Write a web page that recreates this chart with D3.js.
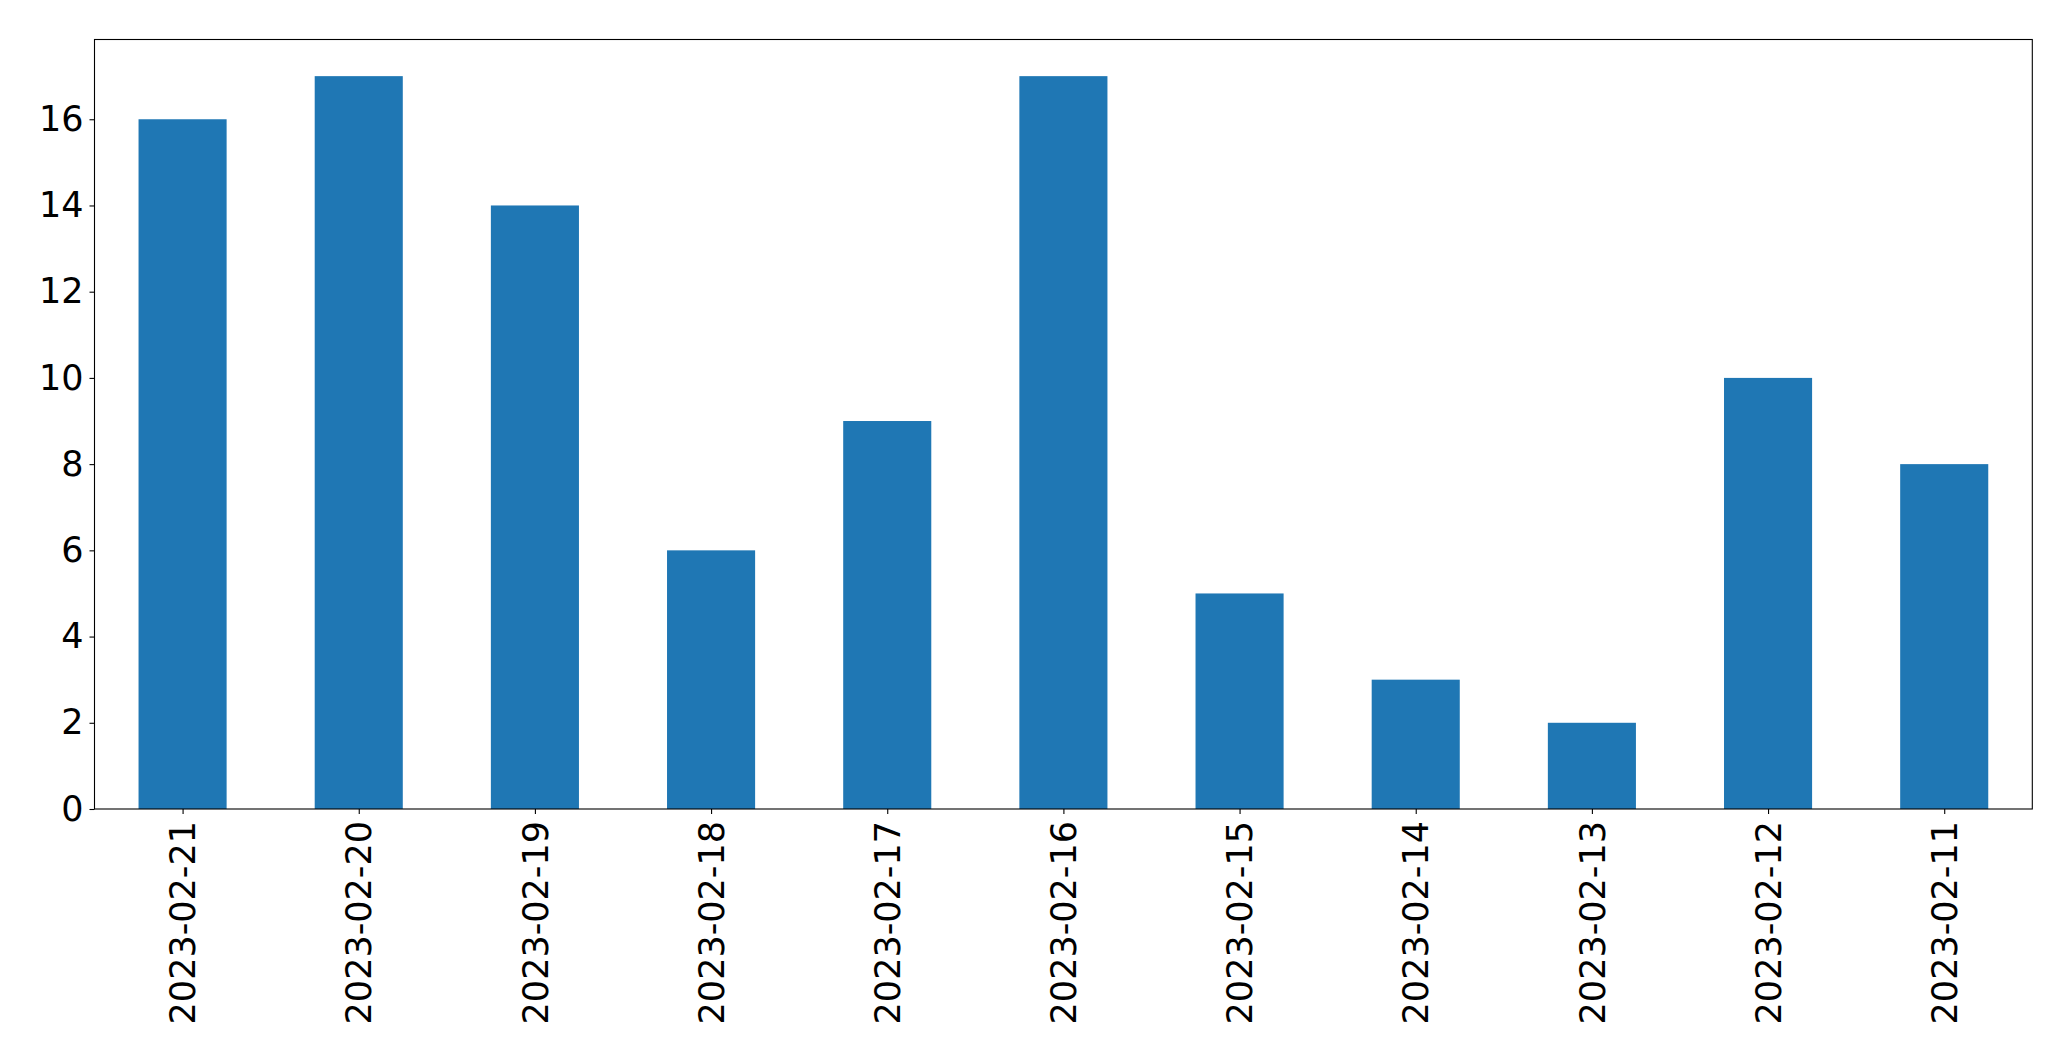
<!DOCTYPE html>
<html>
<head>
<meta charset="utf-8">
<script src="https://cdn.jsdelivr.net/npm/d3@7"></script>
<style>
  html, body { margin: 0; padding: 0; background: #fff; }
  svg { display: block; }
  text { font-family: "DejaVu Sans", sans-serif; }
</style>
</head>
<body>
<svg id="chart" width="2071" height="1061"></svg>
<script>
const categories = ["2023-02-21","2023-02-20","2023-02-19","2023-02-18","2023-02-17","2023-02-16","2023-02-15","2023-02-14","2023-02-13","2023-02-12","2023-02-11"];
const values = [16,17,14,6,9,17,5,3,2,10,8];
const yTicks = [0,2,4,6,8,10,12,14,16];

const W = 2071, H = 1061;
const margin = {left: 94.5, right: W - 2032.3, top: 39.5, bottom: H - 809};
const svg = d3.select("#chart");
const pw = W - margin.left - margin.right;
const ph = H - margin.top - margin.bottom;
const g = svg.append("g").attr("transform", `translate(${margin.left},${margin.top})`);

const x = d3.scaleLinear().domain([-0.5, categories.length - 0.5]).range([0, pw]);
const y = d3.scaleLinear().domain([0, d3.max(values) * 1.05]).range([ph, 0]);
const bw = x(0.25) - x(-0.25);

g.selectAll("rect.bar").data(values).join("rect")
  .attr("class", "bar")
  .attr("x", (d, i) => x(i) - bw / 2)
  .attr("width", bw)
  .attr("y", d => y(d))
  .attr("height", d => y(0) - y(d))
  .attr("fill", "#1f77b4");

const fs = 35;
// y axis
const ya = g.append("g").call(d3.axisLeft(y).tickValues(yTicks).tickFormat(d3.format("d")).tickSize(5).tickPadding(6));
ya.select(".domain").remove();
ya.selectAll("line").attr("stroke", "#000").attr("stroke-width", 1.1);
ya.selectAll("text").attr("font-size", fs).attr("fill", "#000").attr("font-family", "DejaVu Sans");

// x axis
const xa = g.append("g").attr("transform", `translate(0,${ph})`)
  .call(d3.axisBottom(x).tickValues(d3.range(categories.length)).tickFormat(i => categories[i]).tickSize(5).tickPadding(6));
xa.select(".domain").remove();
xa.selectAll("line").attr("stroke", "#000").attr("stroke-width", 1.1);
xa.selectAll("text")
  .attr("font-size", fs).attr("fill", "#000").attr("font-family", "DejaVu Sans")
  .attr("text-anchor", "end")
  .attr("transform", "rotate(-90)")
  .attr("x", -12).attr("y", 0).attr("dy", "0.35em");

// frame
g.append("rect").attr("x", 0).attr("y", 0).attr("width", pw).attr("height", ph)
  .attr("fill", "none").attr("stroke", "#000").attr("stroke-width", 1.1);
</script>
</body>
</html>
